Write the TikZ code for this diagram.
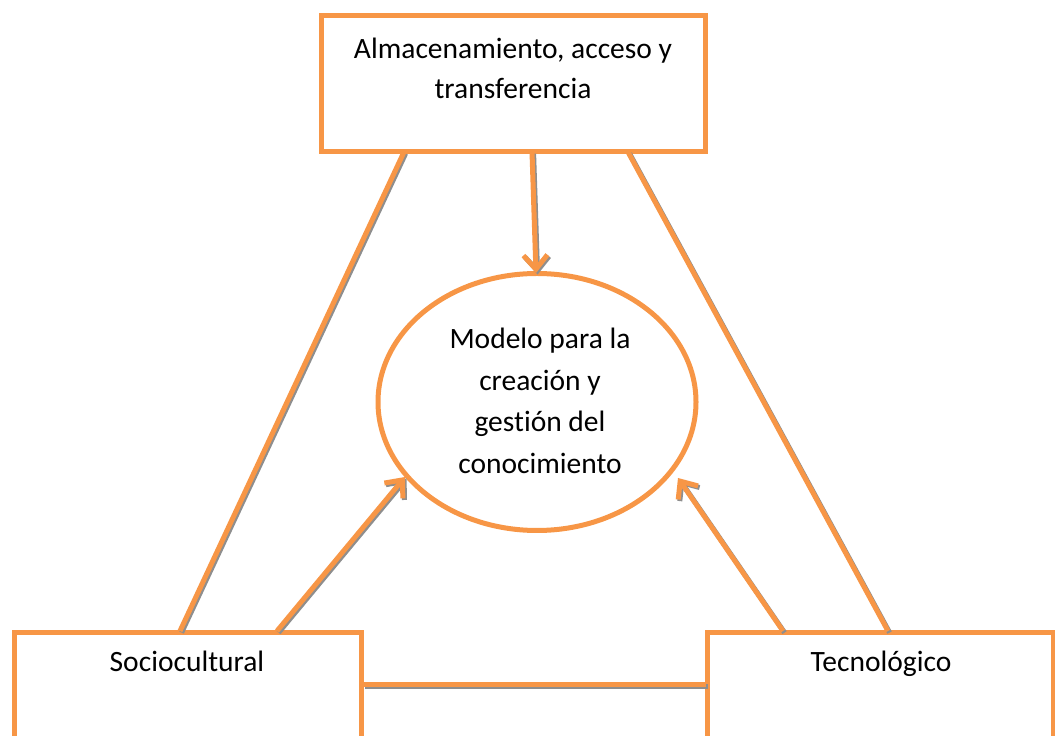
\documentclass[tikz,border=0pt]{standalone}
\usepackage{fontspec}
\setmainfont[Ligatures=NoCommon]{Carlito}
\usetikzlibrary{arrows.meta,shapes.geometric}
\definecolor{accent}{HTML}{F79646}
\definecolor{shade}{HTML}{8E8E8E}
\tikzset{
  boxshape/.style={draw=accent, line width=5pt, rectangle, inner sep=0pt},
  ovalshape/.style={draw=accent, line width=5pt, ellipse, inner sep=0pt},
  label/.style={align=center, inner sep=0pt, font=\fontsize{29.5}{40}\selectfont},
  link/.style={accent, line width=5pt,
    preaction={draw=shade, line width=5pt, transform canvas={shift={(1.6pt,-1.6pt)}}}},
  arrowlink/.style={link, -{Straight Barb[length=14pt,width=24pt]}},
}
\begin{document}
\begin{tikzpicture}[x=1pt,y=1pt]
\useasboundingbox (0,0) rectangle (1055,736);
\clip (0,0) rectangle (1055,736);
% boxes
\node[boxshape, minimum width=384pt, minimum height=136pt] (top) at (513,652) {};
\node[boxshape, minimum width=347pt, minimum height=240pt] (soc) at (187.5,-17) {};
\node[boxshape, minimum width=346pt, minimum height=240pt] (tec) at (880,-17) {};
\node[ovalshape, minimum width=318pt, minimum height=257pt] (model) at (537,334) {};
% texts
\node[label] (toptext) at (513,668) {Almacenamiento, acceso y\\transferencia};
\node[label, anchor=base] (soctext) at (187,64) {Sociocultural};
\node[label, anchor=base] (tectext) at (881,64) {Tecnológico};
\node[label, font=\fontsize{29.5}{41.5}\selectfont] (modeltext) at (540,335) {Modelo para la\\creación y\\gestión del\\conocimiento};
% connector end points
\coordinate (tA) at (404,584);
\coordinate (tB) at (628,584);
\coordinate (tC) at (532,584);
\coordinate (sA) at (180,105);
\coordinate (sB) at (277,105);
\coordinate (rA) at (888,105);
\coordinate (rB) at (783,105);
\coordinate (mT) at (536,463);
\coordinate (mL) at (405,259);
\coordinate (mR) at (678,258);
\coordinate (sR) at (363,51);
\coordinate (rL) at (706,51);
% connectors
\draw[link] (tA) -- (sA);
\draw[link] (tB) -- (rA);
\draw[link] (sR) -- (rL);
\draw[arrowlink] (tC) -- (mT);
\draw[arrowlink] (sB) -- (mL);
\draw[arrowlink] (rB) -- (mR);
\end{tikzpicture}
\end{document}
